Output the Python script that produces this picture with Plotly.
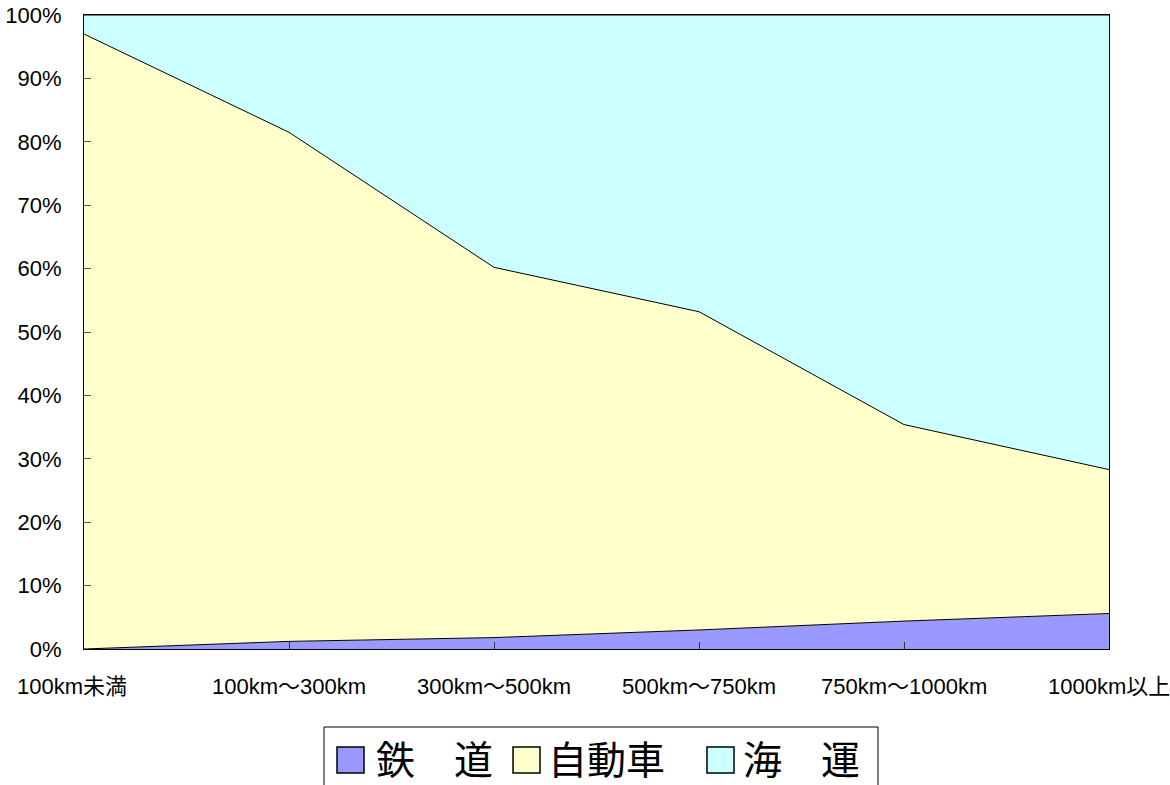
import plotly.graph_objects as go

# Modal share by transport distance band (percent)
categories = ["100km未満", "100km～300km", "300km～500km", "500km～750km", "750km～1000km", "1000km以上"]
rail = [0.0, 1.2, 1.8, 3.0, 4.4, 5.6]
truck = [97.0, 80.3, 58.4, 50.2, 31.0, 22.7]
ship = [3.0, 18.5, 39.8, 46.8, 64.6, 71.7]

series_names = ["鉄　道", "自動車", "海　運"]
series_values = [rail, truck, ship]
series_colors = ["#9999FF", "#FFFFCC", "#CCFFFF"]

FONT = "Liberation Sans, Arial, Noto Sans CJK JP"
xs = list(range(len(categories)))

fig = go.Figure()
for name, vals, color in zip(series_names, series_values, series_colors):
    fig.add_trace(go.Scatter(
        x=xs, y=vals, name=name, mode="lines",
        stackgroup="share", fillcolor=color,
        line=dict(color="black", width=1),
        showlegend=False,
    ))

# Plot-area geometry in pixels, used to place the legend box below the axes
W, H = 1170, 785
L, R, T, B = 84, 1109, 15, 649


def px(x):
    return (x - L) / (R - L)


def py(y):
    return (B - y) / (B - T)


annotations = []
# Category labels under the axis (drawn as annotations so the edge labels are kept)
for i, label in enumerate(categories):
    shift = -12 if i == 0 else 0
    annotations.append(dict(text=label, xref="x", yref="paper", x=i, y=py(686),
                            xanchor="center", yanchor="middle", xshift=shift,
                            showarrow=False, font=dict(family=FONT, size=22, color="black")))

shapes = [dict(type="rect", xref="paper", yref="paper",
               x0=px(324), x1=px(878), y0=py(800), y1=py(727),
               line=dict(color="black", width=1), fillcolor="white", layer="above")]
legend_items = [(337, 374), (513, 546), (707, 741)]
for (sq_x, tx), name, color in zip(legend_items, series_names, series_colors):
    shapes.append(dict(type="rect", xref="paper", yref="paper",
                       x0=px(sq_x), x1=px(sq_x + 27), y0=py(773), y1=py(747),
                       line=dict(color="black", width=1.5), fillcolor=color, layer="above"))
    annotations.append(dict(text=name, xref="paper", yref="paper",
                            x=px(tx), y=py(757), xanchor="left", yanchor="middle",
                            showarrow=False,
                            font=dict(family="Noto Sans CJK JP", size=39, color="black")))

fig.update_layout(
    width=W, height=H,
    margin=dict(l=L, r=W - R, t=T, b=H - B, autoexpand=False),
    paper_bgcolor="white", plot_bgcolor="white",
    font=dict(family=FONT, size=22, color="black"),
    shapes=shapes, annotations=annotations,
)
fig.update_xaxes(
    range=[0, len(categories) - 1], tickvals=xs, showticklabels=False,
    showgrid=False, zeroline=False, automargin=False,
    showline=True, linecolor="black", linewidth=1, mirror=True,
    ticks="inside", ticklen=7, tickcolor="#333333",
)
fig.update_yaxes(
    range=[0, 100], tickvals=list(range(0, 101, 10)),
    ticktext=[f"{v}%" for v in range(0, 101, 10)],
    showgrid=False, zeroline=False, automargin=False,
    showline=True, linecolor="black", linewidth=1, mirror=True,
    ticks="inside", ticklen=7, tickcolor="#555555",
    ticklabelstandoff=17,
    tickfont=dict(family=FONT, size=22),
)

fig.write_html("out.html")
